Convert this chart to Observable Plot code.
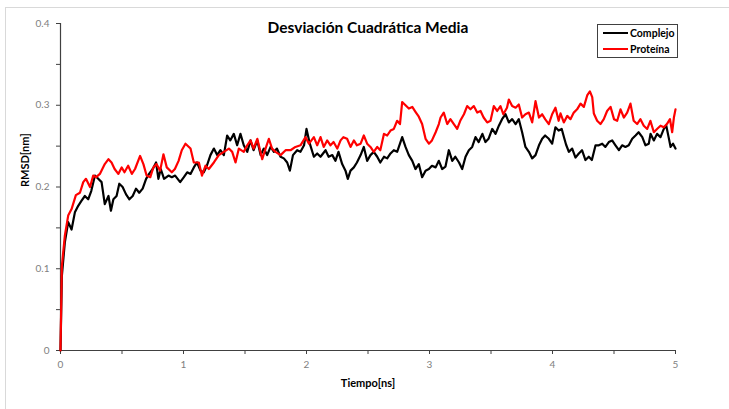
<!DOCTYPE html>
<html>
<head>
<meta charset="utf-8">
<script src="https://cdn.jsdelivr.net/npm/d3@7"></script>
<script src="https://cdn.jsdelivr.net/npm/@observablehq/plot@0.6"></script>
<style>
  html, body { margin: 0; padding: 0; background: #fff; overflow: hidden; }
  #wrap { position: relative; width: 729px; height: 409px; }
  #border { position: absolute; left: 5px; top: 7px; width: 740px; height: 420px; border: 1px solid #d9d9d9; box-sizing: border-box; pointer-events: none; }
  #legend { position: absolute; left: 597px; top: 24px; width: 81px; height: 34px; border: 1px solid #404040; box-sizing: border-box; background: #fff; font-family: Lato, sans-serif; font-weight: bold; font-size: 10.5px; color: #000; }
  .row { position: absolute; left: 5px; height: 14px; display: flex; align-items: center; }
  .sw { width: 25px; height: 2px; margin-right: 2px; }
</style>
</head>
<body>
<div id="wrap">
  <div id="chart"></div>
  <div id="border"></div>
  <div id="legend"></div>
</div>
<script>
const title = "Desviación Cuadrática Media";
const xTitle = "Tiempo[ns]";
const yTitle = "RMSD[nm]";
const seriesNames = ["Complejo", "Proteína"];
const seriesColors = ["#000000", "#ff0000"];
const xTicks = [0, 0.5, 1, 1.5, 2, 2.5, 3, 3.5, 4, 4.5, 5];
const xTickLabels = ["0", "", "1", "", "2", "", "3", "", "4", "", "5"];
const yTicks = [0, 0.05, 0.1, 0.15, 0.2, 0.25, 0.3, 0.35, 0.4];
const yTickLabels = ["0", "", "0.1", "", "0.2", "", "0.3", "", "0.4"];

// [tiempo (ns), RMSD (nm)]
const complejo = [
[0,0],[0.011,0.091],[0.035,0.132],[0.0625,0.157],[0.09,0.148],[0.117,0.169],[0.144,0.177],[0.17,0.183],[0.198,0.189],[0.225,0.185],[0.25,0.195],[0.28,0.214],[0.307,0.21],[0.334,0.206],[0.36,0.179],[0.39,0.189],[0.41,0.171],[0.43,0.185],[0.456,0.189],[0.478,0.204],[0.505,0.2],[0.533,0.191],[0.56,0.185],[0.587,0.189],[0.614,0.198],[0.64,0.193],[0.668,0.198],[0.696,0.21],[0.72,0.216],[0.75,0.222],[0.777,0.23],[0.796,0.21],[0.815,0.222],[0.842,0.21],[0.878,0.214],[0.905,0.212],[0.932,0.214],[0.973,0.206],
[1.003,0.212],[1.03,0.218],[1.057,0.216],[1.084,0.224],[1.11,0.23],[1.138,0.22],[1.165,0.218],[1.19,0.226],[1.219,0.239],[1.247,0.247],[1.274,0.239],[1.3,0.245],[1.328,0.239],[1.355,0.263],[1.38,0.257],[1.409,0.265],[1.436,0.251],[1.463,0.265],[1.49,0.251],[1.518,0.243],[1.545,0.257],[1.57,0.245],[1.6,0.257],[1.627,0.239],[1.653,0.247],[1.68,0.239],[1.708,0.249],[1.735,0.243],[1.76,0.247],[1.789,0.237],[1.816,0.235],[1.843,0.23],[1.865,0.22],[1.89,0.239],[1.924,0.245],[1.951,0.243],[1.98,0.251],[2.0,0.271],[2.027,0.253],
[2.06,0.237],[2.087,0.241],[2.114,0.237],[2.155,0.245],[2.18,0.237],[2.21,0.239],[2.235,0.232],[2.26,0.243],[2.29,0.228],[2.317,0.22],[2.336,0.21],[2.358,0.22],[2.385,0.224],[2.41,0.23],[2.44,0.239],[2.466,0.249],[2.493,0.232],[2.52,0.239],[2.547,0.243],[2.575,0.237],[2.6,0.23],[2.63,0.237],[2.656,0.235],[2.683,0.241],[2.71,0.245],[2.737,0.243],[2.76,0.253],[2.778,0.261],[2.805,0.249],[2.832,0.239],[2.86,0.232],[2.886,0.222],[2.913,0.228],[2.94,0.212],[2.968,0.22],[2.995,0.222],[3.02,0.226],[3.05,0.224],[3.076,0.232],
[3.103,0.222],[3.13,0.225],[3.157,0.245],[3.185,0.232],[3.21,0.237],[3.24,0.23],[3.266,0.222],[3.293,0.237],[3.32,0.245],[3.347,0.249],[3.374,0.261],[3.4,0.255],[3.43,0.265],[3.455,0.255],[3.48,0.259],[3.51,0.271],[3.537,0.265],[3.564,0.275],[3.59,0.283],[3.618,0.289],[3.645,0.279],[3.672,0.283],[3.7,0.277],[3.726,0.283],[3.753,0.267],[3.78,0.249],[3.808,0.243],[3.835,0.235],[3.862,0.239],[3.89,0.251],[3.916,0.259],[3.94,0.263],[3.97,0.259],[3.997,0.253],[4.024,0.273],[4.05,0.269],
[4.075,0.271],[4.095,0.26],[4.11,0.252],[4.133,0.243],[4.16,0.247],[4.187,0.236],[4.214,0.241],[4.24,0.245],[4.268,0.233],[4.295,0.237],[4.32,0.233],[4.35,0.251],[4.377,0.251],[4.404,0.253],[4.43,0.249],[4.458,0.255],[4.485,0.257],[4.512,0.251],[4.54,0.245],[4.566,0.251],[4.593,0.249],[4.62,0.251],[4.648,0.259],[4.675,0.263],[4.7,0.267],[4.73,0.261],[4.756,0.251],[4.783,0.253],[4.797,0.265],[4.824,0.257],[4.85,0.265],[4.878,0.261],[4.905,0.271],[4.925,0.275],[4.944,0.261],[4.96,0.249],[4.98,0.253],[5.0,0.247]
];

const proteina = [
[0,0],[0.011,0.103],[0.035,0.14],[0.0625,0.165],[0.09,0.173],[0.125,0.19],[0.158,0.193],[0.185,0.206],[0.207,0.21],[0.24,0.2],[0.266,0.214],[0.29,0.212],[0.32,0.216],[0.36,0.228],[0.39,0.234],[0.415,0.23],[0.44,0.222],[0.47,0.216],[0.497,0.224],[0.52,0.218],[0.55,0.226],[0.58,0.216],[0.606,0.222],[0.647,0.238],[0.674,0.228],[0.70,0.214],[0.73,0.212],[0.755,0.224],[0.78,0.228],[0.81,0.22],[0.837,0.24],[0.864,0.224],[0.905,0.218],[0.93,0.222],[0.96,0.232],
[0.986,0.245],[1.016,0.253],[1.057,0.247],[1.084,0.23],[1.125,0.23],[1.15,0.214],[1.179,0.226],[1.206,0.222],[1.247,0.23],[1.287,0.239],[1.328,0.243],[1.369,0.247],[1.396,0.243],[1.423,0.23],[1.45,0.247],[1.49,0.243],[1.518,0.251],[1.545,0.257],[1.57,0.247],[1.6,0.259],[1.64,0.234],[1.667,0.247],[1.694,0.259],[1.72,0.247],[1.748,0.243],[1.789,0.239],[1.83,0.245],[1.87,0.245],[1.91,0.249],[1.951,0.251],[1.992,0.261],[2.02,0.253],
[2.06,0.261],[2.087,0.251],[2.114,0.261],[2.14,0.249],[2.168,0.257],[2.195,0.251],[2.22,0.255],[2.25,0.247],[2.277,0.257],[2.3,0.261],[2.33,0.259],[2.358,0.249],[2.385,0.257],[2.41,0.251],[2.44,0.253],[2.466,0.263],[2.493,0.253],[2.52,0.249],[2.547,0.243],[2.575,0.249],[2.6,0.245],[2.63,0.265],[2.656,0.263],[2.683,0.269],[2.71,0.271],[2.737,0.281],[2.76,0.277],[2.778,0.304],[2.805,0.30],[2.832,0.296],[2.86,0.298],[2.886,0.292],[2.913,0.286],[2.94,0.277],[2.968,0.259],[2.995,0.253],[3.02,0.257],[3.05,0.267],[3.076,0.277],
[3.09,0.285],[3.116,0.291],[3.144,0.277],[3.17,0.283],[3.198,0.277],[3.225,0.271],[3.25,0.281],[3.28,0.289],[3.306,0.299],[3.333,0.295],[3.36,0.299],[3.388,0.291],[3.415,0.293],[3.44,0.285],[3.469,0.279],[3.496,0.281],[3.523,0.299],[3.55,0.293],[3.577,0.299],[3.6,0.289],[3.63,0.297],[3.645,0.307],[3.672,0.299],[3.7,0.297],[3.726,0.301],[3.753,0.285],[3.78,0.289],[3.808,0.291],[3.835,0.279],[3.862,0.305],[3.89,0.285],[3.916,0.289],[3.94,0.283],[3.97,0.277],[3.997,0.289],[4.024,0.297],[4.05,0.281],
[4.065,0.29],[4.092,0.279],[4.12,0.287],[4.146,0.283],[4.173,0.291],[4.2,0.295],[4.228,0.302],[4.255,0.298],[4.282,0.312],[4.304,0.317],[4.323,0.31],[4.336,0.29],[4.363,0.281],[4.39,0.277],[4.417,0.283],[4.444,0.293],[4.472,0.298],[4.5,0.283],[4.526,0.281],[4.553,0.295],[4.58,0.285],[4.607,0.291],[4.634,0.302],[4.66,0.281],[4.688,0.277],[4.715,0.283],[4.742,0.275],[4.77,0.271],[4.796,0.281],[4.824,0.267],[4.85,0.271],[4.878,0.275],[4.905,0.273],[4.93,0.277],[4.955,0.283],[4.973,0.267],[4.987,0.285],[5.0,0.295]
];

const fontFamily = "Lato, 'Open Sans', sans-serif";

const chart = Plot.plot({
  width: 729,
  height: 409,
  marginLeft: 60,
  marginRight: 54,
  marginTop: 23,
  marginBottom: 59,
  style: { fontFamily, background: "transparent" },
  x: { domain: [0, 5] },
  y: { domain: [0, 0.4] },
  marks: [
    Plot.axisY({
      ticks: yTicks,
      tickFormat: (d, i) => yTickLabels[i],
      tickSize: 4,
      tickPadding: 7,
      stroke: "#404040",
      fill: "#808080",
      fontSize: 10,
      label: null
    }),
    Plot.axisX({
      ticks: xTicks,
      tickFormat: (d, i) => xTickLabels[i],
      tickSize: 4,
      tickPadding: 6,
      stroke: "#404040",
      fill: "#808080",
      fontSize: 10,
      label: null
    }),
    Plot.ruleY([0], { stroke: "#404040", strokeWidth: 1.2 }),
    Plot.ruleX([0], { stroke: "#404040", strokeWidth: 1.2 }),
    Plot.line(complejo, { x: d => d[0], y: d => d[1], stroke: seriesColors[0], strokeWidth: 2.2, strokeLinejoin: "round" }),
    Plot.line(proteina, { x: d => d[0], y: d => d[1], stroke: seriesColors[1], strokeWidth: 2.2, strokeLinejoin: "round" }),
    Plot.text([title], { frameAnchor: "top", lineAnchor: "middle", dy: 5, text: d => d, fontSize: 15.5, fontWeight: "bold", fill: "#000" }),
    Plot.text([xTitle], { frameAnchor: "bottom", lineAnchor: "middle", dy: 33, text: d => d, fontSize: 11, fontWeight: "bold", fill: "#000" }),
    Plot.text([yTitle], { frameAnchor: "left", lineAnchor: "middle", dx: -35, rotate: -90, text: d => d, fontSize: 11, fontWeight: "bold", fill: "#000" })
  ]
});
document.getElementById("chart").appendChild(chart);

const legend = document.getElementById("legend");
seriesNames.forEach((name, i) => {
  const row = document.createElement("div");
  row.className = "row";
  row.style.top = (1 + i * 16) + "px";
  const sw = document.createElement("div");
  sw.className = "sw";
  sw.style.background = seriesColors[i];
  const label = document.createElement("span");
  label.textContent = name;
  row.appendChild(sw);
  row.appendChild(label);
  legend.appendChild(row);
});
</script>
</body>
</html>
